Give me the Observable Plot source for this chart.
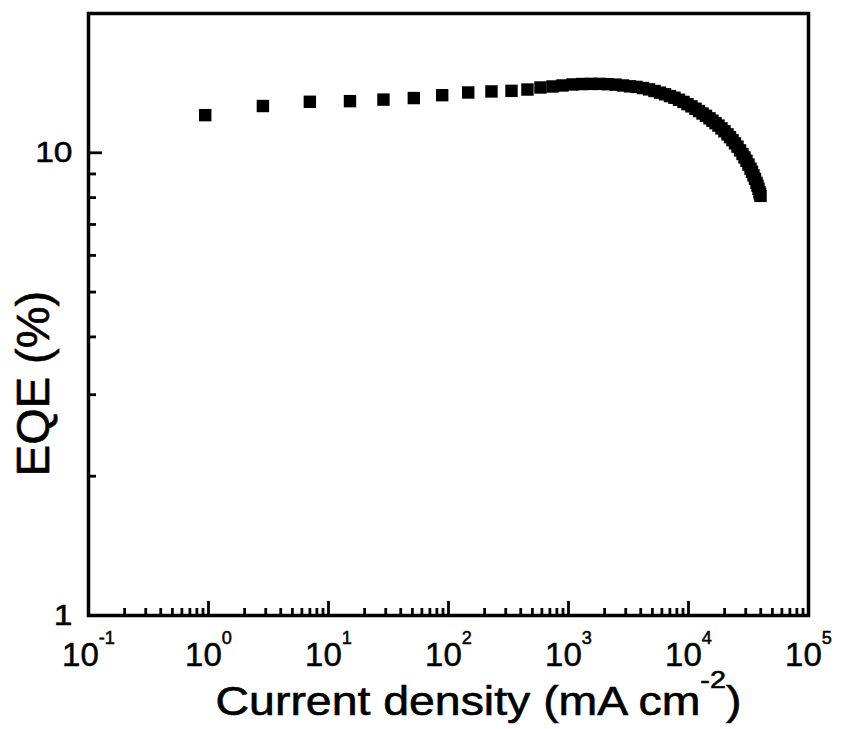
<!DOCTYPE html>
<html><head><meta charset="utf-8">
<script src="https://cdn.jsdelivr.net/npm/d3@7"></script>
<script src="https://cdn.jsdelivr.net/npm/@observablehq/plot@0.6"></script>
<style>body{margin:0;background:#fff;} #chart{width:841px;height:729px;}</style>
</head><body><div id="chart"></div>
<script>
// Current density (mA cm^-2) and EQE (%)
const currentDensity = [0.939, 2.84, 6.99, 15.1, 28.7, 51.4, 88.6, 146, 228, 335, 455, 584,
  736, 891, 1080, 1296, 1540, 1813, 2113, 2465, 2846, 3254,
  3687, 4176, 4686, 5209, 5788, 6372, 7013, 7643, 8333, 9085,
  9810, 10590, 11440, 12230, 13080, 13990, 14960, 15850, 16790, 17780,
  18840, 19950, 21130, 22170, 23260, 24410, 25610, 26870, 28180, 29290,
  30430, 31620, 32860, 33820, 34800, 35830, 36870, 37580, 38310, 39060,
  39430, 39810];
const eqe = [12.06, 12.62, 12.89, 12.93, 13.03, 13.13, 13.32, 13.50, 13.57, 13.61, 13.70, 13.84,
  13.91, 13.98, 14.05, 14.08, 14.09, 14.09, 14.07, 14.04, 13.98, 13.92,
  13.88, 13.80, 13.71, 13.60, 13.49, 13.38, 13.26, 13.15, 13.02, 12.88,
  12.74, 12.60, 12.45, 12.31, 12.16, 12.02, 11.87, 11.73, 11.59, 11.45,
  11.29, 11.13, 10.96, 10.81, 10.65, 10.48, 10.31, 10.12, 9.94, 9.77,
  9.61, 9.43, 9.24, 9.10, 8.94, 8.78, 8.61, 8.49, 8.36, 8.22,
  8.15, 8.07];

const xMajorTicks = [0.1, 1, 10, 100, 1000, 10000, 100000];
const xTickLabels = ["10^-1", "10^0", "10^1", "10^2", "10^3", "10^4", "10^5"];
const yMajorTicks = [1, 10];
const yTickLabels = ["1", "10"];
const minorMantissas = [2, 3, 4, 5, 6, 7, 8, 9];
const xMinorTicks = [0.1, 1, 10, 100, 1000, 10000].flatMap(d => minorMantissas.map(m => m * d));
const yMinorTicks = minorMantissas.slice();
const xTitle = "Current density (mA cm^-2^)";
const yTitle = "EQE (%)";

const data = currentDensity.map((j, i) => ({j, eqe: eqe[i]}));

const chart = Plot.plot({
  width: 841, height: 729,
  marginLeft: 88, marginRight: 33, marginTop: 13, marginBottom: 114,
  style: {fontFamily: "'Liberation Sans', Arial, sans-serif", background: "#fff", color: "#000"},
  x: {type: "log", domain: [0.1, 100000]},
  y: {type: "log", domain: [1, 20]},
  marks: [
    Plot.dot(data, {x: "j", y: "eqe", symbol: "square", r: 7, fill: "#000", stroke: null}),
    Plot.axisX({ticks: xMinorTicks, tickSize: 7, dy: -7, tickFormat: () => "", label: null, strokeWidth: 2.8}),
    Plot.axisX({ticks: xMajorTicks, tickSize: 14, dy: -14, tickFormat: () => "", label: null, strokeWidth: 2.8}),
    Plot.axisX({ticks: xMajorTicks, tickSize: 0, tickPadding: 27, fontSize: 33, label: null,
      tickFormat: d => xTickLabels[xMajorTicks.indexOf(d)]}),
    Plot.axisY({ticks: yMinorTicks, tickSize: 8, dx: 8, tickFormat: () => "", label: null, strokeWidth: 2.8}),
    Plot.axisY({ticks: yMajorTicks, tickSize: 14, dx: 14, tickFormat: () => "", label: null, strokeWidth: 2.8}),
    Plot.axisY({ticks: yMajorTicks, tickSize: 0, tickPadding: 16, fontSize: 30, label: null,
      tickFormat: d => yTickLabels[yMajorTicks.indexOf(d)]}),
    Plot.frame({strokeWidth: 3.5, stroke: "#000"}),
    Plot.text([yTitle], {text: d => d, frameAnchor: "left", textAnchor: "middle", lineAnchor: "middle",
      rotate: -90, dx: -55, dy: 69, fontSize: 47, fill: "#000"}),
    Plot.text([xTitle], {text: d => d, frameAnchor: "bottom", textAnchor: "middle", lineAnchor: "middle",
      dx: 30, dy: 87, fontSize: 40, fill: "#000"})
  ]
});
document.getElementById("chart").appendChild(chart);

const NS = "http://www.w3.org/2000/svg";
function superscriptify(el, fs, supScale, raise) {
  const s = el.textContent;
  if (!s.includes("^")) return;
  const parts = s.split("^");
  el.textContent = "";
  parts.forEach((p, i) => {
    if (p === "") return;
    const t = document.createElementNS(NS, "tspan");
    t.textContent = p;
    if (i % 2 === 1) { t.setAttribute("font-size", fs * supScale); t.setAttribute("dy", -fs * raise); }
    else if (i > 0) { t.setAttribute("dy", fs * raise); }
    el.appendChild(t);
  });
}
function stretch(el, k) {
  const w = el.getComputedTextLength();
  el.setAttribute("textLength", w * k);
  el.setAttribute("lengthAdjust", "spacingAndGlyphs");
}
function embolden(el, w) {
  el.style.stroke = "#000"; el.style.strokeWidth = w + "px"; el.style.paintOrder = "stroke";
}
chart.querySelectorAll('g[aria-label="x-axis tick label"] text').forEach(el => {
  el.style.fontSize = "33px"; superscriptify(el, 33, 0.55, 0.67); embolden(el, 0.5);
});
chart.querySelectorAll('g[aria-label="y-axis tick label"] text').forEach(el => {
  el.style.fontSize = "30px"; stretch(el, 1.12); embolden(el, 0.5);
});
chart.querySelectorAll('g[aria-label="text"] text').forEach(el => {
  if (el.textContent.includes("^")) { el.style.fontSize = "40px"; superscriptify(el, 40, 0.62, 0.68); stretch(el, 1.16); }
  else { el.style.fontSize = "47px"; }
  embolden(el, 0.6);
});
</script>
</body></html>
